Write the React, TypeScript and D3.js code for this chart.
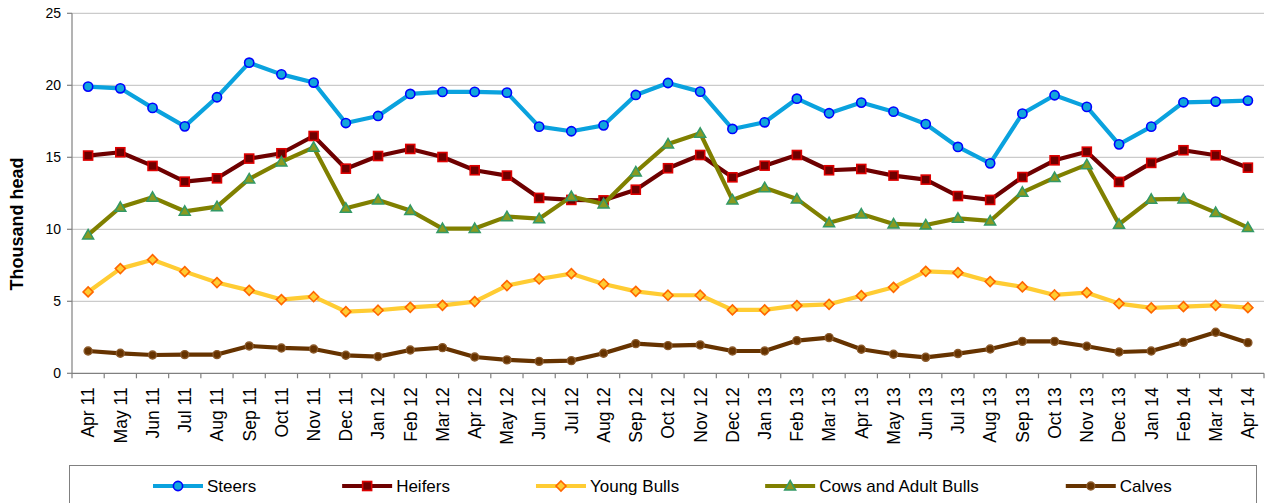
import React from "react";
import * as d3 from "d3";

const months = [
  "Apr 11", "May 11", "Jun 11", "Jul 11", "Aug 11", "Sep 11", "Oct 11", "Nov 11", "Dec 11",
  "Jan 12", "Feb 12", "Mar 12", "Apr 12", "May 12", "Jun 12", "Jul 12", "Aug 12", "Sep 12",
  "Oct 12", "Nov 12", "Dec 12", "Jan 13", "Feb 13", "Mar 13", "Apr 13", "May 13", "Jun 13",
  "Jul 13", "Aug 13", "Sep 13", "Oct 13", "Nov 13", "Dec 13", "Jan 14", "Feb 14", "Mar 14", "Apr 14",
];

const steers = [19.91, 19.79, 18.43, 17.15, 19.17, 21.57, 20.76, 20.19, 17.38, 17.87, 19.4, 19.54, 19.54, 19.49, 17.13, 16.81, 17.22, 19.33, 20.16, 19.56, 16.97, 17.43, 19.07, 18.06, 18.8, 18.17, 17.31, 15.72, 14.58, 18.03, 19.31, 18.5, 15.9, 17.13, 18.82, 18.87, 18.94];
const heifers = [15.12, 15.35, 14.4, 13.31, 13.54, 14.91, 15.28, 16.48, 14.21, 15.09, 15.58, 15.02, 14.1, 13.73, 12.18, 12.04, 12.01, 12.75, 14.24, 15.16, 13.61, 14.42, 15.16, 14.1, 14.19, 13.73, 13.45, 12.31, 12.04, 13.63, 14.79, 15.39, 13.29, 14.61, 15.49, 15.14, 14.28];
const youngBulls = [5.65, 7.27, 7.89, 7.06, 6.3, 5.76, 5.12, 5.32, 4.28, 4.38, 4.58, 4.72, 4.98, 6.09, 6.55, 6.92, 6.2, 5.69, 5.42, 5.42, 4.4, 4.4, 4.7, 4.79, 5.39, 5.97, 7.08, 6.99, 6.37, 6.0, 5.44, 5.6, 4.84, 4.54, 4.63, 4.72, 4.56];
const cowsAdultBulls = [9.61, 11.53, 12.22, 11.25, 11.57, 13.5, 14.68, 15.69, 11.46, 12.04, 11.3, 10.05, 10.05, 10.88, 10.74, 12.27, 11.76, 13.98, 15.93, 16.67, 12.04, 12.89, 12.11, 10.46, 11.06, 10.37, 10.3, 10.76, 10.58, 12.57, 13.59, 14.49, 10.35, 12.08, 12.11, 11.16, 10.12];
const calves = [1.55, 1.39, 1.27, 1.3, 1.3, 1.9, 1.76, 1.69, 1.25, 1.16, 1.62, 1.78, 1.13, 0.93, 0.83, 0.88, 1.39, 2.06, 1.92, 1.97, 1.55, 1.55, 2.27, 2.48, 1.67, 1.32, 1.11, 1.37, 1.69, 2.22, 2.22, 1.88, 1.48, 1.55, 2.15, 2.85, 2.13];

const yTicks = [0, 5, 10, 15, 20, 25];
const yTitle = "Thousand head";

type Marker = "circle" | "square" | "diamond" | "triangle" | "dot";
const series: { name: string; values: number[]; line: string; mFill: string; mStroke: string; marker: Marker }[] = [
  { name: "Steers", values: steers, line: "#0AA2DE", mFill: "#12A6DC", mStroke: "#0000FF", marker: "circle" },
  { name: "Heifers", values: heifers, line: "#6E0000", mFill: "#6E0000", mStroke: "#DD0000", marker: "square" },
  { name: "Young Bulls", values: youngBulls, line: "#FFCC33", mFill: "#FFCC33", mStroke: "#FF6600", marker: "diamond" },
  { name: "Cows and Adult Bulls", values: cowsAdultBulls, line: "#808000", mFill: "#8A9A20", mStroke: "#339966", marker: "triangle" },
  { name: "Calves", values: calves, line: "#663300", mFill: "#663300", mStroke: "#8B5A2B", marker: "dot" },
];

const W = 1266;
const H = 503;
const FONT = "'Liberation Sans', Arial, sans-serif";

function MarkerShape({ type, cx, cy, fill, stroke }: { type: Marker; cx: number; cy: number; fill: string; stroke: string }) {
  if (type === "circle") return <circle cx={cx} cy={cy} r={4.6} fill={fill} stroke={stroke} strokeWidth={1.6} />;
  if (type === "dot") return <circle cx={cx} cy={cy} r={4} fill={fill} stroke={stroke} strokeWidth={1.4} />;
  if (type === "square") return <rect x={cx - 4.5} y={cy - 4.5} width={9} height={9} fill={fill} stroke={stroke} strokeWidth={1.6} />;
  if (type === "diamond")
    return <path d={`M${cx},${cy - 5}L${cx + 5},${cy}L${cx},${cy + 5}L${cx - 5},${cy}Z`} fill={fill} stroke={stroke} strokeWidth={1.6} />;
  return <path d={`M${cx},${cy - 5.5}L${cx + 5.5},${cy + 4}L${cx - 5.5},${cy + 4}Z`} fill={fill} stroke={stroke} strokeWidth={1.5} />;
}

function measure(text: string, font: string): number {
  const c = document.createElement("canvas").getContext("2d");
  if (!c) return text.length * 9;
  c.font = font;
  return c.measureText(text).width;
}

export default function App() {
  const left = 72;
  const right = 1264;
  const top = 13.3;
  const bottom = 373.3;

  const x = d3.scaleBand<string>().domain(months).range([left, right]);
  const bw = x.bandwidth();
  const cx = (m: string) => (x(m) as number) + bw / 2;
  const y = d3.scaleLinear().domain([0, 25]).range([bottom, top]);

  const lineGen = d3
    .line<number>()
    .x((_, i) => cx(months[i]))
    .y((v) => y(v));

  const boundaries = [...months.map((m) => x(m) as number), right];

  // legend layout
  const legendFont = `17px ${FONT}`;
  const legendY = 486;
  let lx = 153;
  const legendItems = series.map((s) => {
    const item = { s, x0: lx, tx: lx + 54 };
    lx = item.tx + measure(s.name, legendFont) + 86;
    return item;
  });

  return (
    <svg width={W} height={H} style={{ position: "absolute", left: 0, top: 0, display: "block", background: "#fff" }} fontFamily={FONT}>
      {/* gridlines */}
      {yTicks.filter((t) => t > 0).map((t) => (
        <line key={"g" + t} x1={left} x2={right} y1={y(t)} y2={y(t)} stroke="#BFBFBF" strokeWidth={1} />
      ))}
      {/* y axis */}
      <line x1={left} x2={left} y1={top} y2={bottom} stroke="#808080" strokeWidth={1.2} />
      {yTicks.map((t) => (
        <g key={"yt" + t}>
          <line x1={left - 5} x2={left} y1={y(t)} y2={y(t)} stroke="#808080" strokeWidth={1.2} />
          <text x={61} y={y(t)} dy="0.36em" textAnchor="end" fontSize={14} fill="#000">
            {t}
          </text>
        </g>
      ))}
      {/* x axis */}
      <line x1={left} x2={right} y1={bottom} y2={bottom} stroke="#808080" strokeWidth={1.2} />
      {boundaries.map((b, i) => (
        <line key={"xt" + i} x1={b} x2={b} y1={bottom} y2={bottom + 5} stroke="#808080" strokeWidth={1.2} />
      ))}
      {months.map((m) => (
        <text
          key={"xl" + m}
          transform={`translate(${cx(m)},${bottom + 14}) rotate(-90)`}
          dy="0.36em"
          textAnchor="end"
          fontSize={17.5}
          fill="#000"
        >
          {m}
        </text>
      ))}
      {/* y title */}
      <text transform={`translate(17,224) rotate(-90)`} dy="0.36em" textAnchor="middle" fontSize={18} fontWeight="bold" fill="#000">
        {yTitle}
      </text>
      {/* series */}
      {series.map((s) => (
        <g key={s.name}>
          <path d={lineGen(s.values) || ""} fill="none" stroke={s.line} strokeWidth={4.2} strokeLinejoin="round" />
          {s.values.map((v, i) => (
            <MarkerShape key={i} type={s.marker} cx={cx(months[i])} cy={y(v)} fill={s.mFill} stroke={s.mStroke} />
          ))}
        </g>
      ))}
      {/* legend */}
      <rect x={69.5} y={465.5} width={1187} height={50} fill="#fff" stroke="#808080" strokeWidth={1} />
      {legendItems.map(({ s, x0, tx }) => (
        <g key={"lg" + s.name}>
          <line x1={x0} x2={x0 + 50} y1={legendY} y2={legendY} stroke={s.line} strokeWidth={4.2} />
          <MarkerShape type={s.marker} cx={x0 + 25} cy={legendY} fill={s.mFill} stroke={s.mStroke} />
          <text x={tx} y={legendY} dy="0.36em" fontSize={17} fill="#000">
            {s.name}
          </text>
        </g>
      ))}
    </svg>
  );
}
